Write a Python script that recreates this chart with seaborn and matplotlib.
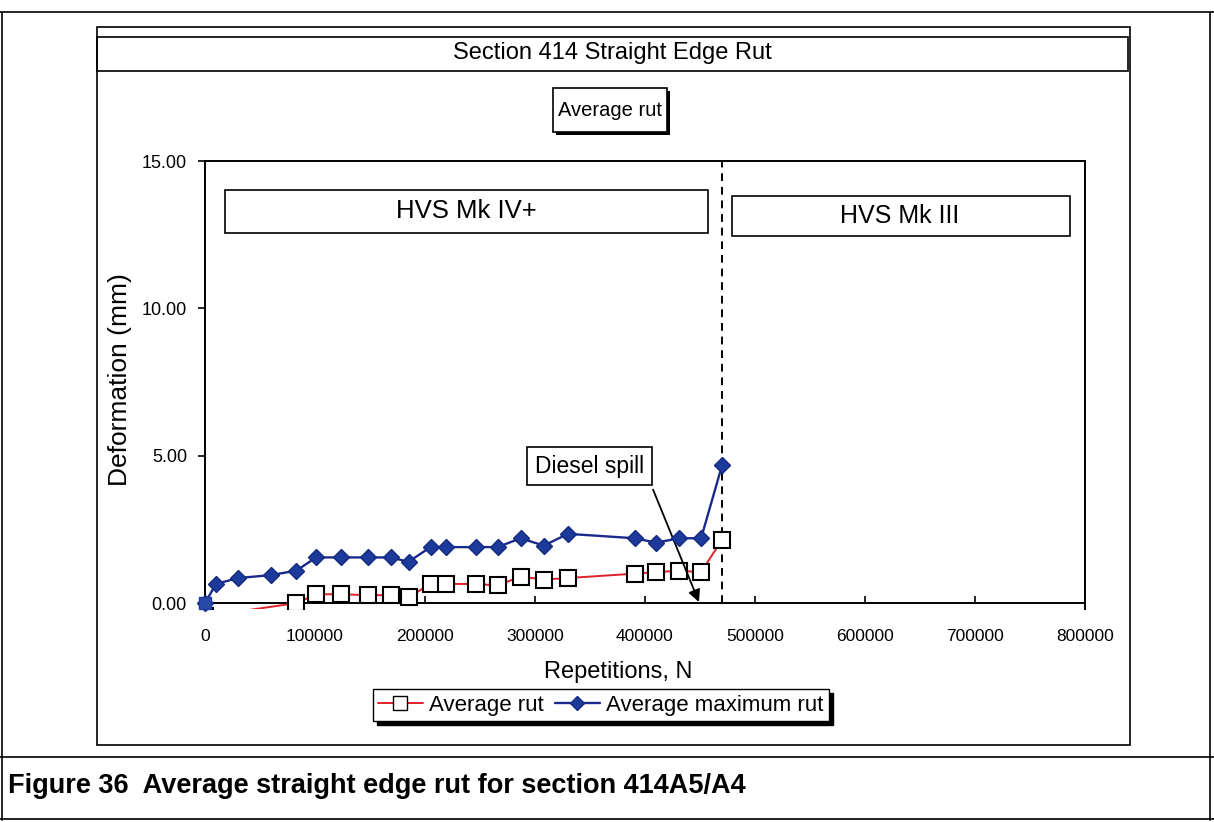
import matplotlib
matplotlib.use("Agg")
import matplotlib.pyplot as plt
from matplotlib.patches import Rectangle
from matplotlib.lines import Line2D
import seaborn as sns
import pandas as pd

# data
reps_rut = [0, 83000, 101000, 124000, 148000, 169000, 185000, 205000, 219000, 246000,
            266000, 287000, 308000, 330000, 391000, 410000, 431000, 451000, 470000]
avg_rut = [-0.45, 0.0, 0.3, 0.3, 0.27, 0.27, 0.2, 0.65, 0.65, 0.65,
           0.6, 0.9, 0.8, 0.85, 1.0, 1.05, 1.1, 1.05, 2.15]

reps_max = [0, 10000, 30000, 60000, 83000, 101000, 124000, 148000, 169000, 185000, 205000,
            219000, 246000, 266000, 287000, 308000, 330000, 391000, 410000, 431000, 451000, 470000]
avg_max_rut = [0.0, 0.65, 0.85, 0.95, 1.1, 1.55, 1.55, 1.55, 1.55, 1.4, 1.9,
               1.9, 1.9, 1.9, 2.2, 1.95, 2.35, 2.2, 2.05, 2.2, 2.2, 4.67]

machine_change = 470000
spill_rep = 450000
x_ticks = [0, 100000, 200000, 300000, 400000, 500000, 600000, 700000, 800000]
y_ticks = [0, 5, 10, 15]

sns.set_theme(style="white")
plt.rcParams['font.family'] = ['Liberation Sans', 'DejaVu Sans']
plt.rcParams['text.color'] = 'black'
plt.rcParams['axes.labelcolor'] = 'black'
plt.rcParams['xtick.color'] = 'black'
plt.rcParams['ytick.color'] = 'black'

W, H = 1214, 822
fig = plt.figure(figsize=(W / 100, H / 100), dpi=100)


def fx(px):
    return px / W


def fy(py):
    return 1 - py / H


def frect(x0, y0, x1, y1, lw=1.2, shadow=False, z=1):
    if shadow:
        fig.add_artist(Rectangle((fx(x0 + 3), fy(y1 + 3)), fx(x1 - x0), (y1 - y0) / H,
                                 transform=fig.transFigure, facecolor="black",
                                 edgecolor="black", lw=0, zorder=z))
    fig.add_artist(Rectangle((fx(x0), fy(y1)), fx(x1 - x0), (y1 - y0) / H,
                             transform=fig.transFigure, facecolor="white" if shadow else "none",
                             edgecolor="black", lw=lw, zorder=z))


def fline(x0, y0, x1, y1, lw=1.2):
    fig.add_artist(Line2D([fx(x0), fx(x1)], [fy(y0), fy(y1)], transform=fig.transFigure,
                          color="black", lw=lw))


# page frame and caption
fline(0, 12, W, 12)
fline(2, 12, 2, 820)
fline(1210, 12, 1210, 820)
fline(0, 819, W, 819)
fline(0, 757, W, 757)
fig.text(fx(8), fy(786), "Figure 36  Average straight edge rut for section 414A5/A4",
         fontsize=19.5, fontweight="bold", ha="left", va="center")

# chart area and title
frect(97, 27, 1130, 745)
frect(97, 37, 1128, 71)
fig.text(fx(612), fy(53), "Section 414 Straight Edge Rut", fontsize=17, ha="center", va="center")
frect(553, 88, 667, 132, shadow=True)
fig.text(fx(610), fy(110), "Average rut", fontsize=14.5, ha="center", va="center")

ax = fig.add_axes([fx(205), fy(609), 880 / W, 448 / H])

df_rut = pd.DataFrame({"N": reps_rut, "rut": avg_rut})
df_max = pd.DataFrame({"N": reps_max, "rut": avg_max_rut})

sns.lineplot(data=df_rut, x="N", y="rut", ax=ax, color="#e0202a", lw=1.4, marker="s",
             markersize=12, markerfacecolor="white", markeredgecolor="black",
             markeredgewidth=1.5, estimator=None, sort=False, zorder=3)
sns.lineplot(data=df_max, x="N", y="rut", ax=ax, color="#1a2a8c", lw=1.7, marker="D",
             markersize=8.5, markerfacecolor="#1c3a9a", markeredgecolor="#142a80",
             markeredgewidth=1.0, estimator=None, sort=False, zorder=4, clip_on=False)
ax.plot(df_max["N"][:1], df_max["rut"][:1], marker="s", ms=9, color="#2a4aa8",
        mec="#1c3a9a", ls="none", clip_on=False, zorder=5)

ax.axvline(machine_change, ymin=0.2 / 15.2, ymax=1.0, color="black", ls=(0, (4, 3)), lw=1.4)

ax.set_xlim(0, 800000)
ax.set_ylim(-0.2, 15)
ax.set_xticks(x_ticks)
ax.set_xticklabels([str(t) for t in x_ticks])
ax.set_yticks(y_ticks)
ax.set_yticklabels([f"{t:.2f}" for t in y_ticks])
for s in ["left", "top", "right", "bottom"]:
    ax.spines[s].set_color("black")
    ax.spines[s].set_linewidth(1.4)
ax.spines["bottom"].set_position(("data", 0))
ax.tick_params(axis="x", direction="in", length=5, width=1.2, pad=19, labelsize=12.5, bottom=True)
ax.tick_params(axis="y", direction="out", length=5, width=1.2, pad=8, labelsize=13, left=True)

ax.set_xlabel("Repetitions, N", fontsize=17)
ax.set_ylabel("Deformation (mm)", fontsize=19)
ax.xaxis.set_label_coords((618 - 205) / 880, (609 - 661) / 448)
ax.yaxis.set_label_coords((132 - 205) / 880, (609 - 380) / 448)

# annotation boxes
frect(225, 190, 708, 233)
fig.text(fx(466), fy(211), "HVS Mk IV+", fontsize=18.5, ha="center", va="center")
frect(732, 196, 1070, 236)
fig.text(fx(900), fy(216), "HVS Mk III", fontsize=18, ha="center", va="center")
fig.add_artist(Rectangle((fx(527), fy(485)), fx(125), 38 / H, transform=fig.transFigure,
                         facecolor="white", edgecolor="black", lw=1.2, zorder=6))
fig.text(fx(590), fy(466), "Diesel spill", fontsize=16.5, ha="center", va="center", zorder=7)
ax.annotate("", xy=(spill_rep, -0.05), xycoords="data",
            xytext=(fx(652), fy(487)), textcoords="figure fraction",
            arrowprops=dict(arrowstyle="-|>", color="black", lw=1.3, mutation_scale=18),
            annotation_clip=False)

legend_handles = [
    Line2D([], [], color="#e0202a", lw=1.4, marker="s", ms=10, mfc="white", mec="black"),
    Line2D([], [], color="#1a2a8c", lw=1.7, marker="D", ms=7.5, mfc="#1c3a9a", mec="#142a80"),
]
fig.legend(legend_handles, ["Average rut", "Average maximum rut"], ncol=2,
           loc="center", bbox_to_anchor=(fx(601), fy(705)), fontsize=16,
           frameon=True, fancybox=False, edgecolor="black", framealpha=1,
           shadow={"color": "black", "alpha": 1, "ox": 3, "oy": -3},
           handlelength=2.0, handletextpad=0.3, columnspacing=0.5, borderpad=0.25)

fig.savefig("out.png", dpi=100)
